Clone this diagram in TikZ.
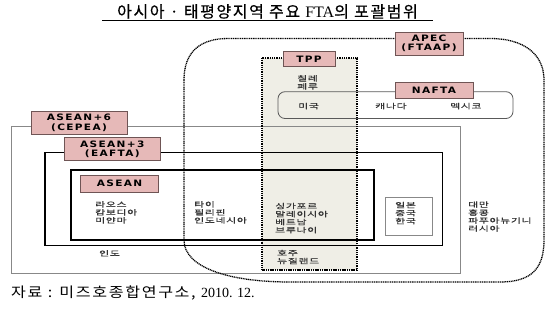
\documentclass[tikz,border=0pt]{standalone}
\usepackage{fontspec}
\setmainfont{Noto Sans CJK KR}
\newfontfamily\krsmall[FakeStretch=1.55,LetterSpace=10,FakeBold=0.6]{Noto Sans CJK KR}
\newfontfamily\krtitle[LetterSpace=10,FakeBold=0.5]{Noto Sans CJK KR}
\newfontfamily\krfoot[FakeStretch=1.15,LetterSpace=12]{Noto Sans CJK KR}
\newfontfamily\labfont[FakeStretch=1.2,LetterSpace=15]{DejaVu Sans}
\newfontfamily\serifnum{Liberation Serif}
\definecolor{lblfill}{HTML}{E6B9B8}
\definecolor{lbldraw}{HTML}{6F5555}
\definecolor{tppfill}{HTML}{EFEEE6}
\definecolor{grayline}{HTML}{888888}
\begin{document}
\begin{tikzpicture}[x=1pt,y=-1pt,
  lbl/.style={draw=lbldraw, fill=lblfill, line width=0.8pt, inner sep=0pt,
    font=\labfont\bfseries\fontsize{8.8}{9.4}\selectfont, align=center},
  kt/.style={font=\krsmall\fontsize{7}{8}\selectfont, align=left, inner sep=0pt,
    anchor=north west, text=black!80},
  dots/.style={line width=1.3pt, dash pattern=on 1.1pt off 0.7pt},
  thinbox/.style={draw=grayline, line width=0.9pt},
  blackbox/.style={draw=black, line width=1.2pt},
  heavybox/.style={draw=black, line width=1.8pt}
]
\useasboundingbox (0,0) rectangle (550,313);
% title
\node[inner sep=0pt] (title) at (267.5,11.5)
  {\krtitle\fontsize{16}{18}\selectfont 아시아 · 태평양지역 주요 {\serifnum FTA}의 포괄범위};
\coordinate (ulA) at (102,20.7);
\coordinate (ulB) at (433,20.7);
\draw[line width=0.8pt] (ulA) -- (ulB);

% TPP fill
\fill[tppfill] (262,58) rectangle (357,270);

% boxes
\draw[thinbox] (11.7,126.7) rectangle (460,273.5);
\draw[blackbox] (45,152.3) rectangle (442.7,245.7);
\draw[heavybox] (71,170) rectangle (374.3,240);
\draw[thinbox] (385,197.7) rectangle (432.7,235.7);
\draw[draw=black!65, line width=0.8pt, rounded corners=7pt] (278,91.7) rectangle (513,118.5);

% TPP dotted border
\draw[dots] (262,58) rectangle (357,270);

% APEC dotted outline
\draw[dots] (184,80) -- (184,240)
  .. controls (184,268) and (230,282) .. (290,282) -- (500,282)
  .. controls (532,282) and (544,268) .. (544,240) -- (544,80)
  .. controls (544,55) and (525,38.5) .. (490,38.5) -- (228,38.5)
  .. controls (200,38.5) and (184,52) .. (184,80) -- cycle;

% labels
\node[lbl, minimum width=68pt, minimum height=23pt] (apec) at (429,43.5) {APEC\\(FTAAP)};
\node[lbl, minimum width=52pt, minimum height=15.5pt] (tpp) at (309,59) {TPP};
\node[lbl, minimum width=78pt, minimum height=16pt] (nafta) at (434,90) {NAFTA};
\node[lbl, minimum width=96pt, minimum height=23pt] (asean6) at (79,122.7) {ASEAN+6\\(CEPEA)};
\node[lbl, minimum width=96.7pt, minimum height=23pt] (asean3) at (112.3,149.3) {ASEAN+3\\(EAFTA)};
\node[lbl, minimum width=77.6pt, minimum height=17pt] (asean) at (119.5,183.5) {ASEAN};

% country texts
\node[kt] (chile) at (297,75) {칠레\\페루};
\node[kt] (usa) at (298,102.7) {미국};
\node[kt] (canada) at (375,102.7) {캐나다};
\node[kt] (mexico) at (450,102.7) {멕시코};
\node[kt] (laos) at (95,201) {라오스\\캄보디아\\미얀마};
\node[kt] (thai) at (194,201) {타이\\필리핀\\인도네시아};
\node[kt] (sing) at (275,202.7) {싱가포르\\말레이시아\\베트남\\브루나이};
\node[kt] (japan) at (395,201.7) {일본\\중국\\한국};
\node[kt] (taiwan) at (468,201.2) {대만\\홍콩\\파푸아뉴기니\\러시아};
\node[kt] (india) at (99,250) {인도};
\node[kt] (aus) at (277,249.7) {호주\\뉴질랜드};

% source
\node[anchor=west, inner sep=0pt] (src) at (11,293)
  {\krfoot\fontsize{14}{16}\selectfont 자료 : 미즈호종합연구소, {\serifnum 2010. 12.}};
\end{tikzpicture}
\end{document}
